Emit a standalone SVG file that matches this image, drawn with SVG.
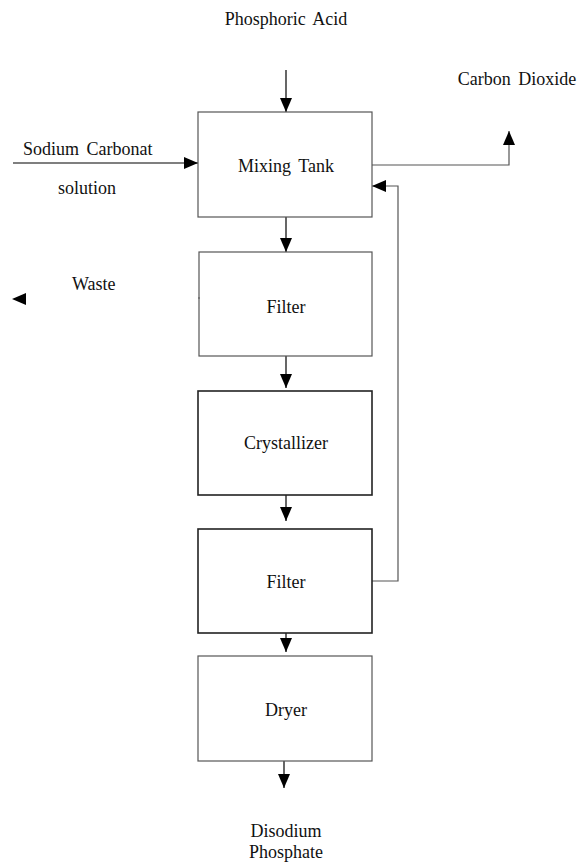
<svg xmlns="http://www.w3.org/2000/svg" width="579" height="862" viewBox="0 0 579 862">
<defs>
<marker id="ah" markerWidth="14" markerHeight="12" refX="14" refY="6" orient="auto" markerUnits="userSpaceOnUse">
<path d="M0,0 L14,6 L0,12 z" fill="#000"/>
</marker>
<style>
.box{fill:#fff;stroke:#555;stroke-width:1.2}
.box2{fill:#fff;stroke:#222;stroke-width:1.6}
.t{font-family:"Liberation Serif","Times New Roman",serif;font-size:18px;fill:#111;word-spacing:3px}
.c{fill:none;stroke:#000;stroke-width:1.2;marker-end:url(#ah)}
.c2{fill:none;stroke:#555;stroke-width:1.2;marker-end:url(#ah)}
</style>
</defs>
<rect width="579" height="862" fill="#fff"/>
<g id="labels">
<text class="t" x="286" y="25" text-anchor="middle">Phosphoric Acid</text>
<text class="t" x="517" y="85" text-anchor="middle">Carbon Dioxide</text>
<text class="t" x="23" y="155">Sodium Carbonat</text>
<text class="t" x="58" y="194">solution</text>
<text class="t" x="72" y="290">Waste</text>
<text class="t" x="286" y="837" text-anchor="middle">Disodium</text>
<text class="t" x="286" y="858" text-anchor="middle">Phosphate</text>
</g>
<g id="connectors">
<line class="c" x1="286" y1="70" x2="286" y2="112"/>
<line class="c" x1="13" y1="163" x2="198" y2="163"/>
<path class="c2" d="M372,165 H509 V131"/>
<path class="c2" d="M372,581 H398 V186 H372"/>
<line class="c" x1="286" y1="217" x2="286" y2="252"/>
<line class="c" x1="286" y1="353" x2="286" y2="388"/>
<line class="c" x1="286" y1="487" x2="286" y2="521"/>
<line class="c" x1="286" y1="618" x2="286" y2="652"/>
<line class="c" x1="284" y1="754" x2="284" y2="788"/>
<polygon points="12,299 26,293 26,305" fill="#000"/>
</g>
<g id="mixing-tank">
<rect class="box" x="198" y="112" width="174" height="105"/>
<text class="t" x="286" y="172" text-anchor="middle">Mixing Tank</text>
</g>
<g id="filter-1">
<rect class="box" x="199" y="252" width="173" height="104"/>
<line x1="198" y1="298" x2="200" y2="298" stroke="#555" stroke-width="1"/>
<text class="t" x="286" y="313" text-anchor="middle">Filter</text>
</g>
<g id="crystallizer">
<rect class="box2" x="198" y="391" width="174" height="104"/>
<text class="t" x="286" y="449" text-anchor="middle">Crystallizer</text>
</g>
<g id="filter-2">
<rect class="box2" x="198" y="529" width="174" height="104"/>
<text class="t" x="286" y="588" text-anchor="middle">Filter</text>
</g>
<g id="dryer">
<rect class="box" x="198" y="656" width="174" height="105"/>
<text class="t" x="286" y="716" text-anchor="middle">Dryer</text>
</g>
</svg>
